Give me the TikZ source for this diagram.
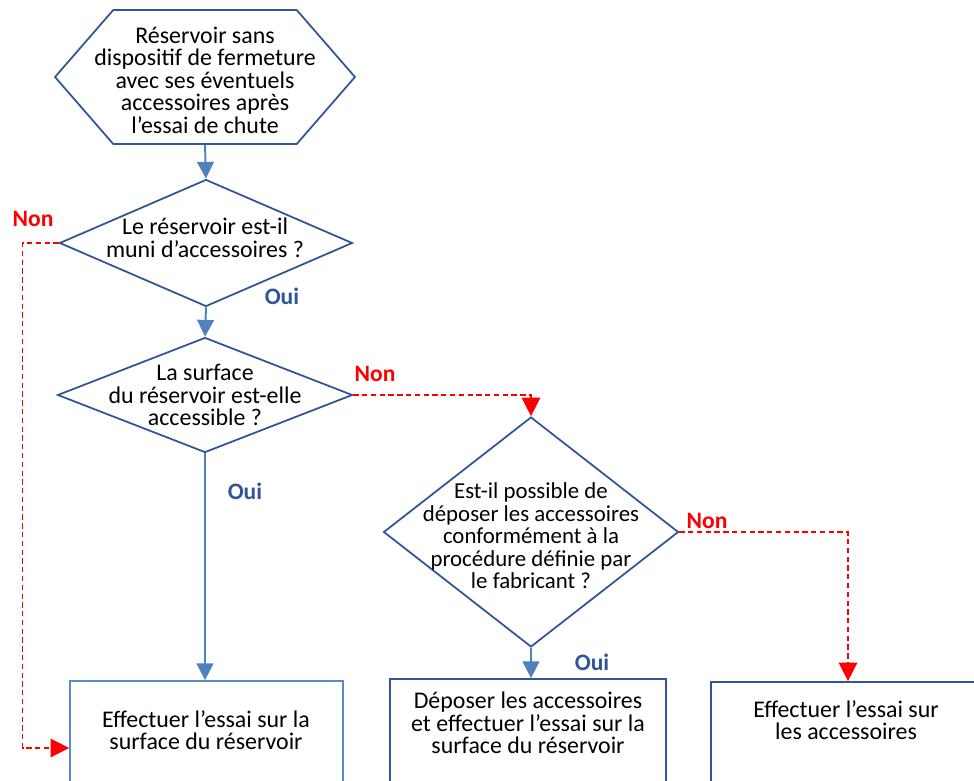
\documentclass[tikz,border=0pt]{standalone}
\usepackage{fontspec}
\setmainfont{Carlito}
\usepackage{xcolor}
\usetikzlibrary{shapes.geometric,shapes.symbols,arrows.meta}

\definecolor{shapeblue}{HTML}{2F5597}
\definecolor{arrowblue}{HTML}{4F81BD}
\definecolor{lightbox}{HTML}{5B8AC6}
\definecolor{nonred}{HTML}{FF0000}

\tikzset{
  startnode/.style={signal, signal to=west and east, signal pointer angle=98,
    draw=shapeblue, line width=1pt, inner sep=0pt},
  decision/.style={diamond, draw=shapeblue, line width=1pt, inner sep=0pt, aspect=1},
  actionbox/.style={rectangle, draw=shapeblue, line width=1pt, inner sep=0pt},
  txt/.style={align=center, inner sep=0pt, font=\fontsize{13.6}{12.8}\selectfont},
  ouilbl/.style={text=shapeblue, font=\bfseries\fontsize{13.4}{12.8}\selectfont},
  nonlbl/.style={text=nonred, font=\bfseries\fontsize{13.4}{12.8}\selectfont},
  yesline/.style={draw=arrowblue, line width=1.1pt, -{Triangle[width=9.5pt,length=9.5pt]}},
  noline/.style={draw=nonred, line width=0.85pt, dash pattern=on 3pt off 2pt,
    -{Triangle[width=10.5pt,length=10.5pt]}}
}

\begin{document}
\begin{tikzpicture}[x=0.02cm,y=-0.02cm]
\useasboundingbox (0,0) rectangle (974,781);
\clip (0,0) rectangle (974,781);

% shapes
\node[startnode, minimum width=6cm, minimum height=2.68cm] (start) at (205,77) {};
\node[txt] (starttxt) at (205,80) {R\'eservoir sans\\dispositif de fermeture\\avec ses \'eventuels\\accessoires apr\`es\\l’essai de chute};

\node[decision, minimum width=5.86cm, minimum height=2.54cm] (q1) at (206,243) {};
\node[txt] (q1txt) at (205,238) {Le r\'eservoir est-il\\muni d’accessoires ?};

\node[decision, minimum width=5.9cm, minimum height=2.3cm] (q2) at (205,395) {};
\node[txt] (q2txt) at (205,395) {La surface\\du r\'eservoir est-elle\\accessible ?};

\node[decision, minimum width=5.9cm, minimum height=4.6cm] (q3) at (531,532) {};
\node[txt, font=\fontsize{13}{12.8}\selectfont] (q3txt) at (531,536) {Est-il possible de\\d\'eposer les accessoires\\conform\'ement \`a la\\proc\'edure d\'efinie par\\le fabricant ?};

\node[actionbox, draw=lightbox, minimum width=5.46cm, minimum height=2.68cm] (b1) at (206.5,748) {};
\node[txt] (b1txt) at (206,730) {Effectuer l’essai sur la\\surface du r\'eservoir};

\node[actionbox, minimum width=5.52cm, minimum height=2.68cm] (b2) at (528,746) {};
\node[txt] (b2txt) at (528,723) {D\'eposer les accessoires\\et effectuer l’essai sur la\\surface du r\'eservoir};

\node[actionbox, minimum width=5.48cm, minimum height=2.68cm] (b3) at (848,749) {};
\node[txt] (b3txt) at (846,720) {Effectuer l’essai sur\\les accessoires};

% connectors
\draw[yesline] (start.south) -- (q1.north);
\draw[yesline] (q1.south) -- (q2.north);
\draw[yesline] (q2.south) -- (q2.south |- b1.north);
\draw[yesline] (q3.south) -- (q3.south |- b2.north);
\draw[noline] (q1.west) -- ++(-36,0) |- (b1.west);
\draw[noline] (q2.east) -| (q3.north);
\draw[noline] (q3.east) -| (b3.north);

% labels
\node[nonlbl] (non1) at (33,219) {Non};
\node[ouilbl] (oui1) at (282,296) {Oui};
\node[nonlbl] (non2) at (375,374) {Non};
\node[ouilbl] (oui2) at (245,491) {Oui};
\node[nonlbl] (non3) at (707,521) {Non};
\node[ouilbl] (oui3) at (592,662) {Oui};
\end{tikzpicture}
\end{document}
